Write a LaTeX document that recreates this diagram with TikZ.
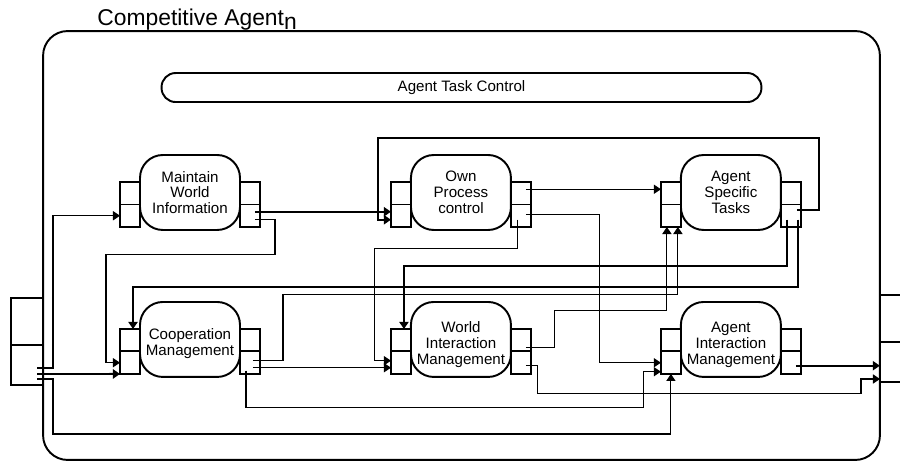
\documentclass[tikz,border=0pt]{standalone}
\usepackage{fontspec}
\setmainfont{Liberation Sans}
\usetikzlibrary{positioning}
\usetikzlibrary{calc}
\usetikzlibrary{arrows.meta}

\tikzset{
  frame/.style={rectangle,draw,line width=1.1pt,rounded corners=14pt,minimum width=16.74cm,minimum height=8.58cm,outer sep=0pt},
  core/.style={rectangle,draw,line width=1.1pt,rounded corners=13pt,minimum width=2cm,minimum height=1.5cm,align=center,inner sep=0pt,outer sep=0pt,font=\fontsize{8.6}{9}\selectfont},
  port/.style={rectangle,draw,fill=white,line width=1.1pt,minimum width=0.4cm,minimum height=0.45cm,inner sep=0pt,outer sep=0pt},
  bus/.style={line width=1.1pt},
  wire/.style={line width=0.6pt},
  >={Triangle[length=4pt,width=5.2pt]}
}

\begin{document}
\begin{tikzpicture}[x=0.02cm,y=-0.02cm]
	\useasboundingbox (0,0) rectangle (900,462);
	% agent container
	\node[frame] (agent) at (461.5,245.5) {};
	\node[anchor=base west,inner sep=0pt,font=\fontsize{13}{15}\selectfont] (title) at ($(agent.north west)+(54,-6)$) {Competitive Agent\raisebox{-2.5pt}{n}};
	\node[core,rounded corners=8pt,minimum width=12cm,minimum height=0.58cm] (atc) [below=0.84cm of agent.north] {Agent Task Control};
	% external ports
	\node[port,anchor=south east,minimum width=0.64cm,minimum height=0.8cm] (ext-l2) at (43,385) {};
	\node[port,minimum width=0.64cm,minimum height=0.94cm] (ext-l1) [above=0pt of ext-l2] {};
	\node[port,anchor=south west,minimum width=0.8cm,minimum height=0.8cm] (ext-r2) at (880,382) {};
	\node[port,minimum width=0.8cm,minimum height=0.94cm] (ext-r1) [above=0pt of ext-r2] {};
	% modules
	\node[core] (mwi) at (190,192.5) {Maintain\\World\\Information};
	\node[core] (opc) [right=3.42cm of mwi] {Own\\Process\\control};
	\node[core] (ast) [right=3.4cm of opc] {Agent\\Specific\\Tasks};
	\node[core] (coop) [below=1.44cm of mwi] {\rule{0pt}{11pt}Cooperation\\Management};
	\node[core] (wim) [right=3.42cm of coop] {\rule{0pt}{12pt}World\\Interaction\\Management};
	\node[core] (aim) [right=3.4cm of wim] {\rule{0pt}{12pt}Agent\\Interaction\\Management};
	\foreach \m in {mwi,opc,ast,coop,wim,aim}{
		\node[port,anchor=south east] (\m-l2) at ($(\m.south west)+(0,-3)$) {};
		\node[port] (\m-l1) [above=0pt of \m-l2] {};
		\node[port,anchor=south west] (\m-r2) at ($(\m.south east)+(0,-3)$) {};
		\node[port] (\m-r1) [above=0pt of \m-r2] {};
	}
	% inputs from outside
	\draw[wire,->] ($(ext-l2.center)+(10,3)$) -- ++(16,0) |- (mwi-l2.west);
	\draw[bus,->] ($(ext-l2.center)+(10,9)$) -- (coop-l2.south west);
	\draw[wire,->] ($(ext-l2.center)+(10,14)$) -- ++(16,0) -- ++(0,55) -| (aim-l2.south);
	% upper row
	\draw[bus,->] ($(mwi-r2.center)+(5,-4)$) -- ($(opc-l2.west)+(0,-4)$);
	\draw[wire,->] ($(mwi-r2.center)+(5,4)$) -- ++(20,0) -- ++(0,35) -| ($(coop-l2.west)+(-14,0)$) -- (coop-l2.west);
	\draw[wire,->] ($(opc-r1.center)+(5,-4)$) -- ($(ast-l1.west)+(0,-4)$);
	\draw[wire,->] ($(opc-r2.center)+(5,-1)$) -- ++(74,0) |- (aim-l2.west);
	\draw[wire,->] ($(opc-r2.center)+(-3,4)$) -- ++(0,29) -| ($(wim-l2.west)+(-16,-2)$) -- ($(wim-l2.west)+(0,-2)$);
	\draw[bus,->] ($(ast-r2.center)+(6,-6)$) -- ++(22,0) -- ++(0,-72) -| ($(opc-l2.west)+(-13,4)$) -- ($(opc-l2.west)+(0,4)$);
	\draw[bus,->] ($(ast-r2.center)+(-4,4)$) -- ++(0,46) -| ($(wim-l1.north)+(3,0)$);
	\draw[bus,->] ($(ast-r2.center)+(7,4)$) -- ++(0,67) -| ($(coop-l1.north)+(3,0)$);
	% lower row
	\draw[wire,->] ($(coop-r2.center)+(3,-2)$) -- ++(30,0) -- ++(0,-66) -| ($(ast-l2.south)+(7,0)$);
	\draw[wire,->] ($(coop-r2.center)+(3,5)$) -- ($(wim-l2.west)+(0,5)$);
	\draw[wire,->] ($(coop-r2.center)+(-4,8)$) -- ++(0,37) -| ($(aim-l2.west)+(-17,9)$) -- ($(aim-l2.west)+(0,9)$);
	\draw[wire,->] ($(wim-r1.center)+(5,7)$) -- ++(29,0) -- ++(0,-37) -| ($(ast-l2.south)+(-4,0)$);
	\draw[wire,->] ($(wim-r2.center)+(5,3)$) -- ++(12,0) -- ++(0,28) -| ($(ext-r2.west)+(-19,17)$) -- ($(ext-r2.west)+(0,17)$);
	\draw[bus,->] ($(aim-r2.center)+(5,3)$) -- ++(84,0);
\end{tikzpicture}
\end{document}
